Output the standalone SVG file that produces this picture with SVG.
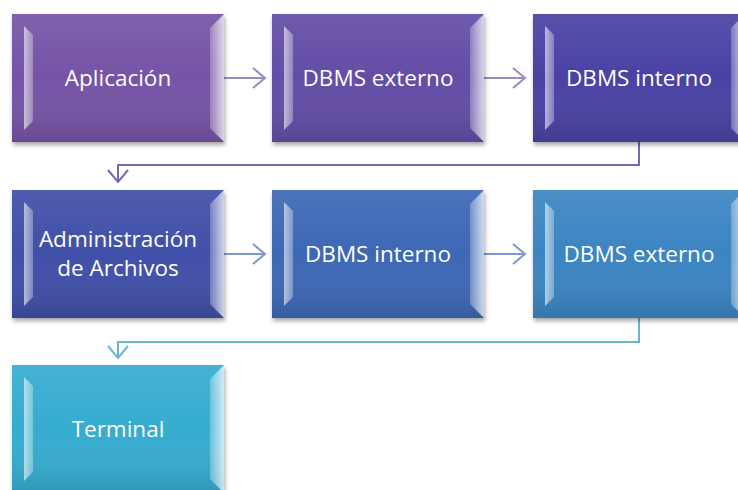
<svg xmlns="http://www.w3.org/2000/svg" width="738" height="490" viewBox="0 0 738 490">
<defs>
<style>
.box{filter:url(#sh)}
.lbl{font-family:"Open Sans","Liberation Sans",sans-serif;font-size:22.5px;fill:#ffffff;text-anchor:middle}
.ln{fill:none;stroke-width:2}
</style>
<filter id="sh" x="-10%" y="-10%" width="125%" height="130%">
<feDropShadow dx="1" dy="3" stdDeviation="2" flood-color="#000" flood-opacity="0.35"/>
</filter>
<linearGradient id="ov" x1="0" y1="0" x2="0" y2="1">
<stop offset="0" stop-color="#fff" stop-opacity="0.08"/>
<stop offset="0.5" stop-color="#fff" stop-opacity="0"/>
<stop offset="1" stop-color="#000" stop-opacity="0.12"/>
</linearGradient>
<linearGradient id="lf" x1="0" y1="0" x2="1" y2="0">
<stop offset="0" stop-color="#fff" stop-opacity="0.6"/>
<stop offset="1" stop-color="#fff" stop-opacity="0.3"/>
</linearGradient>
<linearGradient id="rf" x1="0" y1="0" x2="1" y2="0">
<stop offset="0" stop-color="#fff" stop-opacity="0.25"/>
<stop offset="1" stop-color="#fff" stop-opacity="0.75"/>
</linearGradient>
<g id="bev">
<rect x="0" y="0" width="212" height="128" fill="url(#ov)"/>
<polygon points="12,12 21,21 21,107 12,116" fill="url(#lf)"/>
<polygon points="212,0 198,14 198,114 212,128" fill="url(#rf)"/>
</g>
<marker id="a1" markerWidth="16" markerHeight="24" refX="13" refY="12" orient="auto" markerUnits="userSpaceOnUse"><path d="M1,2 L13,12 L1,22" fill="none" stroke="#9d89c4" stroke-width="2"/></marker>
<marker id="a2" markerWidth="16" markerHeight="24" refX="13" refY="12" orient="auto" markerUnits="userSpaceOnUse"><path d="M1,2 L13,12 L1,22" fill="none" stroke="#6f6cb5" stroke-width="2"/></marker>
<marker id="a3" markerWidth="16" markerHeight="24" refX="13" refY="12" orient="auto" markerUnits="userSpaceOnUse"><path d="M1,2 L13,12 L1,22" fill="none" stroke="#7d99cf" stroke-width="2"/></marker>
<marker id="a4" markerWidth="16" markerHeight="24" refX="13" refY="12" orient="auto" markerUnits="userSpaceOnUse"><path d="M1,2 L13,12 L1,22" fill="none" stroke="#6cb4cf" stroke-width="2"/></marker>
</defs>
<rect width="738" height="490" fill="#ffffff"/>
<g id="connectors">
<path class="ln" d="M224,78 H265" stroke="#9d89c4" marker-end="url(#a1)"/>
<path class="ln" d="M484,78 H525" stroke="#9d89c4" marker-end="url(#a1)"/>
<path class="ln" d="M639,142 V165 H118 V182" stroke="#6f6cb5" marker-end="url(#a2)"/>
<path class="ln" d="M224,254 H265" stroke="#7d99cf" marker-end="url(#a3)"/>
<path class="ln" d="M484,254 H525" stroke="#7d99cf" marker-end="url(#a3)"/>
<path class="ln" d="M639,318 V342 H118 V358" stroke="#6cb4cf" marker-end="url(#a4)"/>
</g>
<g id="n1" transform="translate(12,14)"><rect class="box" width="212" height="128" fill="#7653a6"/><use href="#bev"/><text class="lbl" x="106" y="72">Aplicación</text></g>
<g id="n2" transform="translate(272,14)"><rect class="box" width="212" height="128" fill="#634ea6"/><use href="#bev"/><text class="lbl" x="106" y="72">DBMS externo</text></g>
<g id="n3" transform="translate(533,14)"><rect class="box" width="212" height="128" fill="#4a42a4"/><use href="#bev"/><text class="lbl" x="106" y="72">DBMS interno</text></g>
<g id="n4" transform="translate(12,190)"><rect class="box" width="212" height="128" fill="#3f4fa8"/><use href="#bev"/><text class="lbl" x="106" y="57">Administración</text><text class="lbl" x="106" y="86">de Archivos</text></g>
<g id="n5" transform="translate(272,190)"><rect class="box" width="212" height="128" fill="#3e67b6"/><use href="#bev"/><text class="lbl" x="106" y="72">DBMS interno</text></g>
<g id="n6" transform="translate(533,190)"><rect class="box" width="212" height="128" fill="#3a85c2"/><use href="#bev"/><text class="lbl" x="106" y="72">DBMS externo</text></g>
<g id="n7" transform="translate(12,365)"><rect class="box" width="212" height="128" fill="#35acd0"/><use href="#bev"/><text class="lbl" x="106" y="72">Terminal</text></g>
</svg>
